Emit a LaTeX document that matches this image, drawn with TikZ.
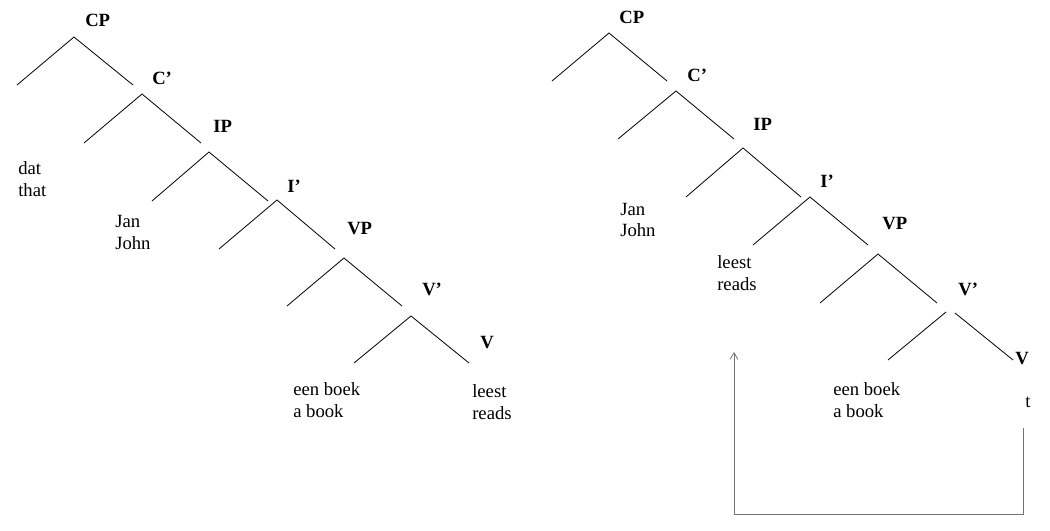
\documentclass[tikz,border=0pt]{standalone}
\usepackage{fontspec}
\setmainfont{Liberation Serif}
\usetikzlibrary{arrows.meta}
\begin{document}
\begin{tikzpicture}[x=0.75pt,y=-0.75pt,
  branch/.style={line width=0.6pt,black},
  cat/.style={anchor=base west,inner sep=0pt,font=\fontsize{14}{16.5}\selectfont\bfseries},
  leaf/.style={anchor=base west,inner sep=0pt,align=left,font=\fontsize{14}{16.5}\selectfont},
  move/.style={line width=0.6pt,draw=black!55,-{Straight Barb[length=5pt,width=6pt,line width=0.6pt]}}]
\useasboundingbox (0,0) rectangle (1050,531);
% ---------------- left tree ----------------
\node[cat] (lCP) at (85,27) {CP};
\node[cat] (lCb) at (152,85) {C’};
\node[cat] (lIP) at (213,133) {IP};
\node[cat] (lIb) at (287,193) {I’};
\node[cat] (lVP) at (347,235) {VP};
\node[cat] (lVb) at (422,295) {V’};
\node[cat] (lV) at (480,348) {V};
\coordinate (la1) at (74,37);  \coordinate (ll1) at (17,85);   \coordinate (lr1) at (133,85);
\coordinate (la2) at (142,94); \coordinate (ll2) at (84,143);  \coordinate (lr2) at (201,143);
\coordinate (la3) at (209,152);\coordinate (ll3) at (152,201); \coordinate (lr3) at (268,201);
\coordinate (la4) at (277,200);\coordinate (ll4) at (219,249); \coordinate (lr4) at (335,249);
\coordinate (la5) at (344,258);\coordinate (ll5) at (287,306); \coordinate (lr5) at (402,306);
\coordinate (la6) at (411,316);\coordinate (ll6) at (354,363); \coordinate (lr6) at (469,363);
\foreach \i in {1,...,6}{\draw[branch] (ll\i) -- (la\i) -- (lr\i);}
\node[leaf] (ldat) at (18,197) {dat\\that};
\node[leaf] (ljan) at (115,249) {Jan\\John};
\node[leaf] (lboek) at (293,417) {een boek\\a book};
\node[leaf] (lleest) at (472,419) {leest\\reads};
% ---------------- right tree ----------------
\node[cat] (rCP) at (619,24) {CP};
\node[cat] (rCb) at (687,82) {C’};
\node[cat] (rIP) at (753,131) {IP};
\node[cat] (rIb) at (820,188) {I’};
\node[cat] (rVP) at (882,229) {VP};
\node[cat] (rVb) at (958,295) {V’};
\node[cat] (rV) at (1015,364) {V};
\coordinate (ra1) at (609,33); \coordinate (rl1) at (552,81);  \coordinate (rr1) at (667,81);
\coordinate (ra2) at (676,91); \coordinate (rl2) at (618,139); \coordinate (rr2) at (734,139);
\coordinate (ra3) at (743,148);\coordinate (rl3) at (686,197); \coordinate (rr3) at (801,197);
\coordinate (ra4) at (810,197);\coordinate (rl4) at (753,245); \coordinate (rr4) at (868,245);
\coordinate (ra5) at (878,254);\coordinate (rl5) at (820,303); \coordinate (rr5) at (937,303);
\foreach \i in {1,...,5}{\draw[branch] (rl\i) -- (ra\i) -- (rr\i);}
\coordinate (ra6l) at (946,312); \coordinate (rl6) at (888,360);
\coordinate (ra6r) at (955,313); \coordinate (rr6) at (1013,360);
\draw[branch] (ra6l) -- (rl6);
\draw[branch] (ra6r) -- (rr6);
\node[leaf] (rjan) at (620,237) {Jan\\John};
\node[leaf] (rleest) at (717,290) {leest\\reads};
\node[leaf] (rboek) at (833,417) {een boek\\a book};
\node[leaf] (rt) at (1025,407) {t};
% movement arrow
\coordinate (tstart) at (1023,428);
\coordinate (target) at (734,352);
\draw[move] (tstart) -- (1023,514) -- (734,514) -- (target);
\end{tikzpicture}
\end{document}
